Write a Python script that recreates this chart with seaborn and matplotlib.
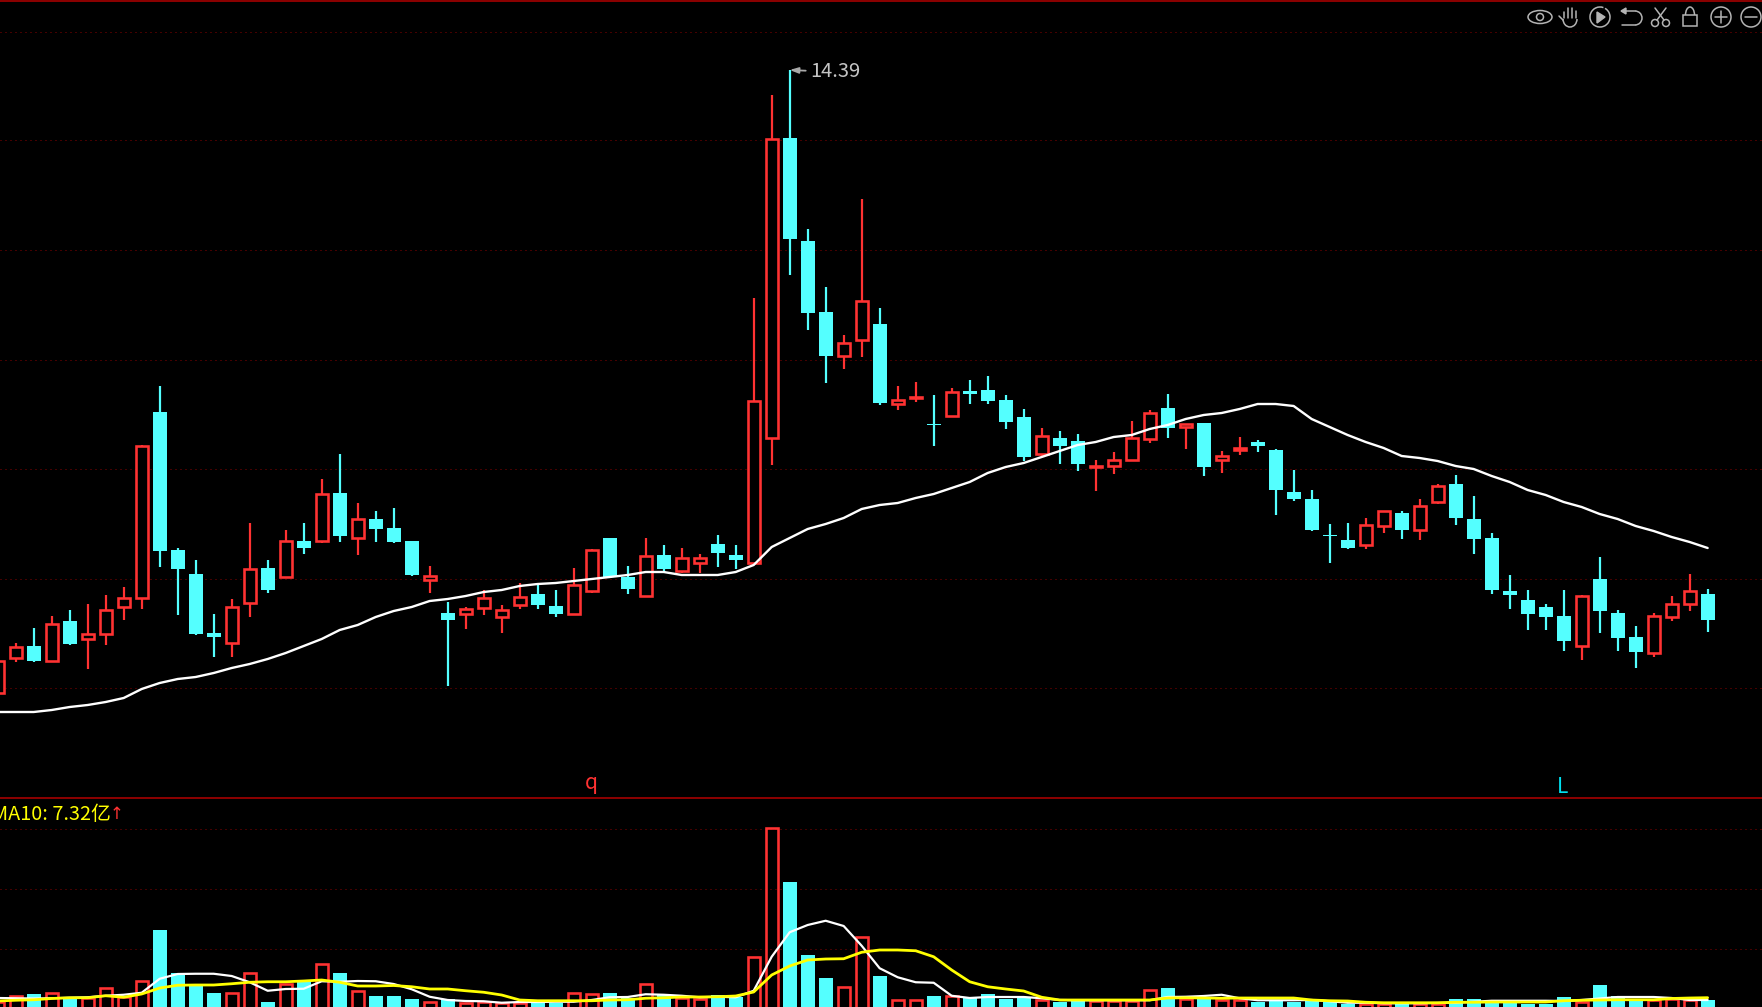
import numpy as np
import pandas as pd
import seaborn as sns
import matplotlib.pyplot as plt
from matplotlib.patches import Arc, Circle, Ellipse, Polygon, Rectangle

# daily candles
opens = [8.16, 8.51, 8.63, 8.48, 8.88, 8.70, 8.75, 9.02, 9.11, 10.97, 9.59, 9.35,
         8.76, 8.66, 9.06, 9.41, 9.32, 9.68, 9.68, 10.16, 9.71, 9.90, 9.81, 9.68,
         9.29, 8.96, 8.95, 9.01, 8.92, 9.04, 9.15, 9.03, 8.95, 9.18, 9.71, 9.32,
         9.13, 9.54, 9.38, 9.46, 9.65, 9.54, 9.46, 10.71, 13.71, 12.68, 11.97, 11.53,
         11.69, 11.85, 11.05, 11.11, 10.85, 10.93, 11.18, 11.19, 11.09, 10.92, 10.55, 10.71,
         10.68, 10.42, 10.43, 10.49, 10.70, 11.01, 10.82, 10.86, 10.49, 10.59, 10.67, 10.59,
         10.17, 10.10, 9.74, 9.69, 9.64, 9.83, 9.96, 9.79, 10.07, 10.25, 9.90, 9.71,
         9.18, 9.09, 9.02, 8.93, 8.63, 9.30, 8.96, 8.72, 8.56, 8.92, 9.05, 9.15]
closes = [8.48, 8.62, 8.48, 8.85, 8.65, 8.75, 8.99, 9.11, 10.63, 9.58, 9.40, 8.75,
          8.72, 9.02, 9.40, 9.19, 9.68, 9.61, 10.15, 9.73, 9.90, 9.80, 9.67, 9.34,
          9.33, 8.89, 9.00, 9.11, 8.99, 9.12, 9.04, 8.95, 9.24, 9.59, 9.32, 9.20,
          9.53, 9.40, 9.51, 9.51, 9.56, 9.49, 11.08, 13.70, 12.70, 11.96, 11.53, 11.66,
          12.08, 11.06, 11.09, 11.12, 10.84, 11.17, 11.15, 11.08, 10.87, 10.52, 10.73, 10.63,
          10.45, 10.43, 10.49, 10.71, 10.96, 10.81, 10.85, 10.42, 10.53, 10.61, 10.63, 10.19,
          10.10, 9.79, 9.73, 9.61, 9.84, 9.98, 9.79, 10.03, 10.23, 9.91, 9.70, 9.19,
          9.14, 8.95, 8.92, 8.68, 9.13, 8.98, 8.71, 8.57, 8.93, 9.05, 9.18, 8.89]
highs = [8.48, 8.66, 8.81, 8.93, 8.99, 9.05, 9.14, 9.22, 10.64, 11.23, 9.61, 9.49,
         8.95, 9.10, 9.86, 9.49, 9.79, 9.86, 10.30, 10.55, 10.06, 9.98, 10.01, 9.68,
         9.43, 9.07, 9.02, 9.19, 9.04, 9.26, 9.24, 9.19, 9.41, 9.60, 9.71, 9.43,
         9.71, 9.64, 9.61, 9.55, 9.74, 9.64, 12.11, 14.14, 14.39, 12.80, 12.22, 11.74,
         13.10, 12.01, 11.23, 11.27, 11.14, 11.21, 11.29, 11.33, 11.14, 11.00, 10.81, 10.78,
         10.75, 10.49, 10.57, 10.88, 10.99, 11.15, 10.85, 10.86, 10.58, 10.72, 10.69, 10.60,
         10.39, 10.19, 9.85, 9.86, 9.91, 9.98, 9.98, 10.10, 10.25, 10.34, 10.13, 9.76,
         9.34, 9.19, 9.05, 9.19, 9.14, 9.52, 8.99, 8.83, 8.96, 9.13, 9.35, 9.20]
lows = [8.16, 8.47, 8.47, 8.47, 8.64, 8.40, 8.64, 8.89, 9.00, 9.42, 8.94, 8.74,
        8.52, 8.52, 8.92, 9.16, 9.31, 9.55, 9.66, 9.67, 9.54, 9.67, 9.66, 9.33,
        9.16, 8.23, 8.80, 8.94, 8.76, 9.00, 9.00, 8.92, 8.94, 9.16, 9.32, 9.15,
        9.12, 9.37, 9.36, 9.36, 9.42, 9.40, 9.44, 10.44, 12.34, 11.79, 11.26, 11.40,
        11.52, 11.04, 10.99, 11.07, 10.63, 10.92, 11.05, 11.05, 10.80, 10.48, 10.53, 10.45,
        10.38, 10.18, 10.35, 10.48, 10.66, 10.71, 10.60, 10.33, 10.36, 10.54, 10.57, 9.94,
        10.08, 9.78, 9.46, 9.60, 9.60, 9.76, 9.70, 9.69, 10.05, 9.84, 9.55, 9.15,
        9.00, 8.79, 8.79, 8.58, 8.49, 8.76, 8.58, 8.41, 8.52, 8.88, 8.98, 8.77]
price_ma = [7.97, 7.97, 7.97, 7.99, 8.02, 8.04, 8.07, 8.11, 8.20, 8.26, 8.30, 8.32,
            8.36, 8.41, 8.45, 8.50, 8.56, 8.63, 8.70, 8.79, 8.84, 8.92, 8.98, 9.02,
            9.08, 9.10, 9.13, 9.17, 9.19, 9.23, 9.25, 9.26, 9.28, 9.30, 9.32, 9.34,
            9.37, 9.37, 9.34, 9.34, 9.34, 9.37, 9.44, 9.62, 9.71, 9.80, 9.85, 9.91,
            10.00, 10.04, 10.06, 10.11, 10.15, 10.21, 10.27, 10.36, 10.42, 10.46, 10.52, 10.58,
            10.64, 10.67, 10.72, 10.74, 10.80, 10.84, 10.90, 10.94, 10.96, 11.00, 11.05, 11.05,
            11.03, 10.90, 10.82, 10.74, 10.67, 10.61, 10.53, 10.51, 10.48, 10.43, 10.40, 10.33,
            10.27, 10.19, 10.14, 10.07, 10.02, 9.95, 9.90, 9.83, 9.78, 9.72, 9.67, 9.61]

# volume in 亿
volume = [5.7, 7.9, 8.8, 9.1, 7.1, 7.1, 11.1, 7.7, 13.9, 34.4, 17.2, 12.4,
          9.2, 9.1, 17.1, 5.6, 12.7, 13.6, 20.7, 17.2, 9.9, 8.0, 8.0, 6.8,
          5.5, 6.8, 5.1, 5.5, 5.1, 5.1, 5.1, 5.1, 9.1, 8.7, 9.2, 7.1,
          12.7, 8.4, 7.3, 6.7, 8.3, 7.7, 23.5, 75.1, 53.6, 24.4, 15.2, 11.5,
          31.5, 16.0, 6.3, 6.3, 8.0, 7.9, 7.7, 8.8, 6.8, 7.7, 6.4, 5.6,
          6.4, 6.1, 6.1, 6.1, 10.3, 11.2, 6.7, 6.8, 6.4, 6.4, 5.6, 6.4,
          5.7, 6.4, 5.7, 4.8, 4.8, 4.8, 4.8, 4.8, 4.8, 6.8, 6.8, 5.3,
          5.3, 4.8, 4.8, 7.6, 5.7, 12.4, 8.0, 6.4, 6.4, 6.8, 6.4, 6.4]
vol_ma5 = [7.2, 7.1, 7.0, 7.1, 7.3, 7.5, 8.1, 8.5, 9.3, 14.9, 16.8, 16.9,
           16.9, 16.0, 13.5, 10.1, 10.8, 10.9, 13.9, 13.7, 14.0, 13.9, 12.8, 10.7,
           7.7, 6.4, 6.0, 5.9, 5.3, 5.6, 5.6, 5.7, 5.7, 6.4, 7.5, 7.6,
           8.7, 8.5, 8.1, 7.5, 7.7, 7.5, 10.1, 23.7, 33.5, 36.4, 38.1, 36.0,
           28.1, 19.1, 15.5, 13.5, 13.3, 8.1, 7.2, 7.6, 7.6, 7.6, 7.1, 6.4,
           6.3, 6.3, 6.3, 6.3, 6.3, 7.6, 7.7, 8.0, 8.5, 7.1, 6.3, 6.3,
           6.3, 6.4, 5.9, 5.3, 5.3, 5.1, 5.1, 5.1, 5.2, 5.3, 5.7, 6.1,
           6.1, 6.1, 6.1, 6.0, 6.4, 7.0, 7.6, 7.6, 7.6, 7.2, 6.4, 6.4]
vol_ma10 = [6.0, 6.3, 6.5, 7.0, 7.3, 7.3, 8.1, 7.5, 8.8, 11.2, 12.3, 12.4,
            12.4, 12.9, 13.5, 13.7, 13.7, 14.0, 14.4, 13.5, 12.0, 12.0, 12.2, 11.7,
            10.8, 10.8, 10.1, 9.5, 8.4, 6.4, 6.1, 6.1, 6.1, 6.1, 6.4, 6.5,
            7.1, 7.3, 7.6, 7.6, 7.7, 8.0, 9.6, 16.4, 20.0, 22.4, 22.8, 22.9,
            25.5, 26.4, 26.4, 26.1, 23.7, 18.4, 13.7, 11.7, 10.8, 10.0, 7.5, 6.4,
            6.4, 6.4, 6.4, 6.4, 6.4, 7.2, 7.3, 7.2, 7.1, 7.2, 7.2, 7.2,
            7.2, 6.4, 6.1, 6.0, 5.5, 5.3, 5.3, 5.3, 5.3, 5.5, 5.5, 5.6,
            5.6, 5.6, 5.6, 6.1, 6.3, 6.4, 6.5, 6.5, 6.5, 7.0, 7.2, 7.32]

price_grid = [14.77, 13.69, 12.59, 11.49, 10.40, 9.30, 8.21]
vol_grid = [74.7, 50.7, 26.7]
peak_label = "14.39"
ma_label = "MA10: 7.32亿"

RED = "#ff3232"
CYAN = "#54ffff"
YELLOW = "#ffff00"
GRID = "#8a0000"
RULE = "#8a0000"
ICON = "#b4b4b4"
FONTS = ["Noto Sans CJK SC", "DejaVu Sans"]
PX = 0.72  # one pixel in points at dpi 100

sns.set_theme(style="dark", rc={"figure.facecolor": "black", "axes.facecolor": "black",
                                "savefig.facecolor": "black"})
plt.rcParams["font.family"] = FONTS

df = pd.DataFrame({"day": np.arange(len(opens)), "open": opens, "close": closes,
                   "high": highs, "low": lows, "ma": price_ma, "volume": volume,
                   "ma5": vol_ma5, "ma10": vol_ma10})
df["up"] = df["close"] >= df["open"]
up = df[df["up"]]
down = df[~df["up"]]


def draw_grid(ax, levels):
    for level in levels:
        ax.axhline(level, color=GRID, lw=PX, ls=(0, (1, 4)), zorder=0)


def draw_candles(ax):
    ax.vlines(up["day"], up["low"], up["high"], color=RED, lw=2.2 * PX, zorder=2)
    ax.vlines(down["day"], down["low"], down["high"], color=CYAN, lw=2.2 * PX, zorder=2)
    ax.bar(up["day"], up["close"] - up["open"], bottom=up["open"], width=0.67,
           facecolor="black", edgecolor=RED, linewidth=2.6 * PX, zorder=3)
    ax.bar(down["day"], down["close"] - down["open"], bottom=down["open"], width=0.78,
           color=CYAN, linewidth=0, zorder=3)


def draw_toolbar(ax):
    kw = dict(fill=False, edgecolor=ICON, lw=1.1)
    # eye
    ax.add_patch(Ellipse((1540, 17), 24, 13, **kw))
    ax.add_patch(Circle((1540, 17), 3.5, **kw))
    # hand
    for x, top in zip([1564, 1568, 1572, 1576], [12, 8, 8, 11]):
        ax.plot([x, x], [top, 18], color=ICON, lw=1.1)
    ax.add_patch(Arc((1570, 19), 14, 16, theta1=0, theta2=180, edgecolor=ICON, lw=1.1))
    ax.plot([1563, 1559], [20, 16], color=ICON, lw=1.1)
    # play
    ax.add_patch(Arc((1600, 17), 20, 20, theta1=-60, theta2=290, edgecolor=ICON, lw=1.1))
    ax.add_patch(Polygon([[1597, 12], [1597, 23], [1605, 17]], color=ICON))
    # undo
    ax.plot([1622, 1635], [11, 11], color=ICON, lw=1.1)
    ax.plot([1622, 1635], [25, 25], color=ICON, lw=1.1)
    ax.add_patch(Arc((1635, 18), 14, 14, theta1=-90, theta2=90, edgecolor=ICON, lw=1.1))
    ax.add_patch(Polygon([[1621, 11], [1626, 8], [1626, 14]], color=ICON))
    # scissors
    ax.add_patch(Circle((1655, 23), 3.5, **kw))
    ax.add_patch(Circle((1666, 23), 3.5, **kw))
    ax.plot([1657, 1666], [20, 8], color=ICON, lw=1.1)
    ax.plot([1664, 1655], [20, 8], color=ICON, lw=1.1)
    # lock
    ax.add_patch(Rectangle((1683, 15), 14, 11, **kw))
    ax.add_patch(Arc((1690, 15), 9, 16, theta1=180, theta2=360, edgecolor=ICON, lw=1.1))
    # plus and minus
    ax.add_patch(Circle((1721, 17), 10, **kw))
    ax.plot([1715, 1727], [17, 17], color=ICON, lw=1.1)
    ax.plot([1721, 1721], [11, 23], color=ICON, lw=1.1)
    ax.add_patch(Circle((1751, 17), 10, **kw))
    ax.plot([1745, 1757], [17, 17], color=ICON, lw=1.1)


fig = plt.figure(figsize=(17.62, 10.07), dpi=100)
ax_price = fig.add_axes([0, 210 / 1007, 1, 797 / 1007])
ax_vol = fig.add_axes([0, 0, 1, 208 / 1007])
overlay = fig.add_axes([0, 0, 1, 1])

# price panel
draw_grid(ax_price, price_grid)
draw_candles(ax_price)
sns.lineplot(data=df, x="day", y="ma", color="white", lw=1.7, ax=ax_price, zorder=4)
peak_day = df["high"].idxmax()
ax_price.annotate(peak_label, xy=(peak_day, df["high"].max()), xytext=(45.15, df["high"].max() - 0.02),
                  color="#c4c4c4", fontsize=14.5, va="center", ha="left",
                  arrowprops=dict(arrowstyle="-|>,head_width=0.12,head_length=0.35", color="#a8a8a8",
                                  lw=1.3, shrinkA=1, shrinkB=0))
ax_price.text(33, 7.20, "q", color=RED, fontsize=15, ha="center", va="baseline")
ax_price.text(86.95, 7.16, "L", color="#00e0f0", fontsize=15, ha="center", va="baseline")
ax_price.set_xlim(0.128, 98.02)
ax_price.set_ylim(7.12, 15.09)
ax_price.set_axis_off()

# volume panel
draw_grid(ax_vol, vol_grid)
sns.barplot(data=down, x="day", y="volume", native_scale=True, color=CYAN, saturation=1,
            width=0.78, errorbar=None, linewidth=0, ax=ax_vol, zorder=2)
sns.barplot(data=up, x="day", y="volume", native_scale=True, color=RED, saturation=1,
            fill=False, width=0.67, errorbar=None, linewidth=2.6 * PX, ax=ax_vol, zorder=2)
sns.lineplot(data=df, x="day", y="ma5", color="white", lw=1.6, ax=ax_vol, zorder=4)
sns.lineplot(data=df, x="day", y="ma10", color=YELLOW, lw=2.0, ax=ax_vol, zorder=5)
ax_vol.set_xlim(0.128, 98.02)
ax_vol.set_ylim(3.6, 86.8)
ax_vol.set_axis_off()

# rules, legend text and toolbar, all in pixels
overlay.set_xlim(0, 1762)
overlay.set_ylim(1007, 0)
overlay.set_axis_off()
overlay.patch.set_alpha(0)
overlay.axhline(1, color=RULE, lw=2 * PX)
overlay.axhline(798, color=RULE, lw=2 * PX)
overlay.text(110.5, 815, ma_label, color=YELLOW, fontsize=14.3, ha="right", va="center")
overlay.text(117, 814, "↑", color=RED, fontsize=12, family="DejaVu Sans", ha="center", va="center")
draw_toolbar(overlay)

fig.savefig("out.png", dpi=100)
